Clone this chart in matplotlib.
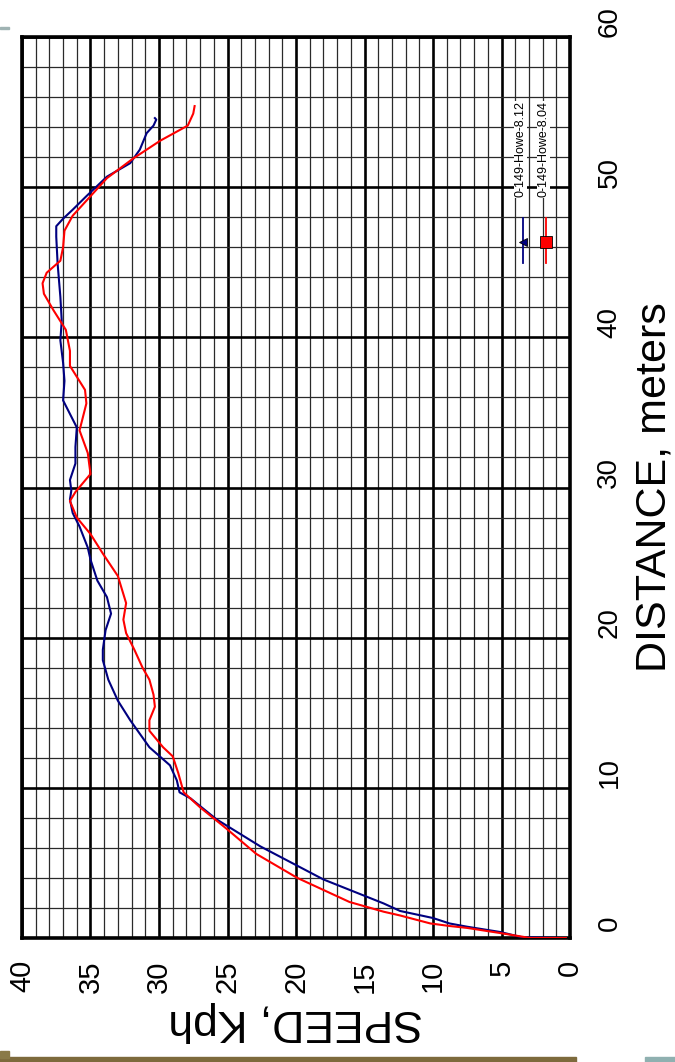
import matplotlib
matplotlib.use("Agg")
import matplotlib.pyplot as plt
import matplotlib.transforms as mtransforms
from matplotlib.patches import Rectangle
from matplotlib.ticker import MultipleLocator

plt.rcParams['font.family'] = ['Liberation Sans', 'DejaVu Sans']

# run 0-149-Howe-8.12 (blue)
blue_name = '0-149-Howe-8.12'
blue_speed = [0.3, 3.5, 5.1, 7.5, 8.8, 10.0, 12.4, 13.6, 18.0, 22.6, 25.8, 27.7, 28.5, 28.7,
              29.2, 30.7, 32.1, 33.0, 33.7, 34.1, 34.1, 33.9, 33.5, 33.8, 34.5, 35.0, 35.2,
              35.8, 36.3, 36.5, 36.4, 36.5, 36.1, 36.1, 36.0, 36.5, 37.0, 36.9, 37.0, 37.2,
              37.1, 37.2, 37.4, 37.5, 37.5, 37.0, 36.3, 35.3, 33.8, 32.1, 31.4, 30.9, 30.4,
              30.2, 30.3]
blue_dist = [0.0, 0.05, 0.4, 0.75, 0.97, 1.33, 1.8, 2.3, 3.9, 6.1, 7.9, 9.3, 9.7, 10.5,
             11.5, 12.7, 14.5, 15.8, 17.2, 18.5, 19.2, 20.5, 21.6, 22.7, 23.8, 25.2, 26.0,
             27.4, 28.3, 29.2, 29.8, 30.5, 31.6, 32.7, 34.0, 34.9, 35.8, 37.1, 38.3, 39.8,
             41.1, 42.7, 44.9, 46.7, 47.4, 47.9, 48.5, 49.4, 50.7, 51.6, 52.5, 53.6, 54.1,
             54.5, 54.6]

# run 0-149-Howe-8.04 (red)
red_name = '0-149-Howe-8.04'
red_speed = [0.3, 2.9, 5.1, 7.5, 8.8, 10.2, 12.4, 13.6, 16.1, 19.9, 22.9, 25.1, 27.0, 28.2,
             28.6, 29.0, 29.7, 30.7, 30.7, 30.3, 30.4, 30.7, 31.2, 31.8, 32.4, 32.6, 32.4,
             33.0, 34.1, 35.0, 36.0, 36.5, 36.1, 35.0, 35.2, 35.8, 35.3, 35.4, 36.5, 36.5,
             36.8, 37.7, 38.4, 38.5, 38.2, 37.2, 37.0, 36.9, 36.3, 35.3, 33.8, 31.9, 29.9,
             27.9, 27.5, 27.4]
red_dist = [0.0, 0.0, 0.33, 0.67, 0.8, 0.97, 1.5, 1.75, 2.4, 4.0, 5.6, 7.3, 8.7, 9.7,
            11.0, 12.1, 12.7, 13.8, 14.5, 15.4, 16.2, 17.2, 18.0, 19.2, 20.3, 21.2, 22.3,
            24.1, 25.6, 26.9, 28.0, 29.1, 29.7, 30.9, 32.3, 33.8, 35.6, 36.5, 38.1, 39.1,
            40.5, 41.8, 42.9, 43.6, 44.3, 45.1, 46.0, 47.1, 48.1, 49.1, 50.6, 51.9, 53.1,
            54.1, 54.9, 55.4]

speed_ticks = [0, 5, 10, 15, 20, 25, 30, 35, 40]
dist_ticks = [0, 10, 20, 30, 40, 50, 60]

fig = plt.figure(figsize=(6.75, 10.62), dpi=100)
ax = fig.add_axes([22 / 675, 124 / 1062, 548 / 675, 901 / 1062])

# the slide is shown turned on its side: speed runs right-to-left, distance upward
ax.plot(blue_speed, blue_dist, color='#000080', lw=1.5, zorder=3)
ax.plot(red_speed, red_dist, color='#ff0000', lw=1.5, zorder=3)

ax.set_xlim(40, 0)
ax.set_ylim(0, 60)
ax.set_xticks(speed_ticks)
ax.set_yticks(dist_ticks)
ax.xaxis.set_minor_locator(MultipleLocator(1))
ax.yaxis.set_minor_locator(MultipleLocator(2))
ax.grid(which='minor', color='#2a2a2a', lw=0.9)
ax.grid(which='major', color='black', lw=1.9)
ax.set_axisbelow(True)
for s in ax.spines.values():
    s.set_linewidth(2.6)

ax.yaxis.tick_right()
ax.tick_params(which='both', length=0)
ax.tick_params(axis='x', labelsize=21, labelrotation=90, pad=16)
ax.tick_params(axis='y', labelsize=20, labelrotation=90, pad=19)
for lab in ax.get_yticklabels():
    lab.set_verticalalignment('center')
    lab.set_transform(lab.get_transform() +
                      mtransforms.ScaledTranslation(0, 0.15, fig.dpi_scale_trans))

ax.set_xlabel('SPEED, Kph', fontsize=32, rotation=180, labelpad=6)
ax.yaxis.set_label_position('right')
ax.set_ylabel('DISTANCE, meters', fontsize=31, rotation=90, labelpad=9)

# legend, turned like the rest of the chart
for xa, col, mk, ms, name in [(0.914, '#000080', '<', 6, blue_name),
                              (0.956, '#ff0000', 's', 8, red_name)]:
    ax.plot([xa, xa], [0.749, 0.799], color=col, lw=1.3, transform=ax.transAxes,
            clip_on=False, zorder=4)
    ax.plot([xa], [0.7725], marker=mk, ms=ms, color=col, mec='black', mew=0.6,
            transform=ax.transAxes, clip_on=False, zorder=5)
    ax.text(xa - 0.004, 0.822, name, rotation=90, fontsize=9, ha='center', va='bottom',
            transform=ax.transAxes, zorder=4,
            bbox=dict(fc='white', ec='none', pad=0.5))

# bits of the slide around the chart
fig.patches.append(Rectangle((0, 1 - 29 / 1062), 9 / 675, 2 / 1062, color='#9fb3b3',
                             transform=fig.transFigure, figure=fig))
fig.patches.append(Rectangle((0, 0), 576 / 675, 5 / 1062, color='#7d6a3c',
                             transform=fig.transFigure, figure=fig))
fig.patches.append(Rectangle((0, 4 / 1062), 9 / 675, 7 / 1062, color='#8a7a48',
                             transform=fig.transFigure, figure=fig))
fig.patches.append(Rectangle((645 / 675, 0), 30 / 675, 5 / 1062, color='#8fb0b0',
                             transform=fig.transFigure, figure=fig))

fig.savefig('out.png', dpi=100)
